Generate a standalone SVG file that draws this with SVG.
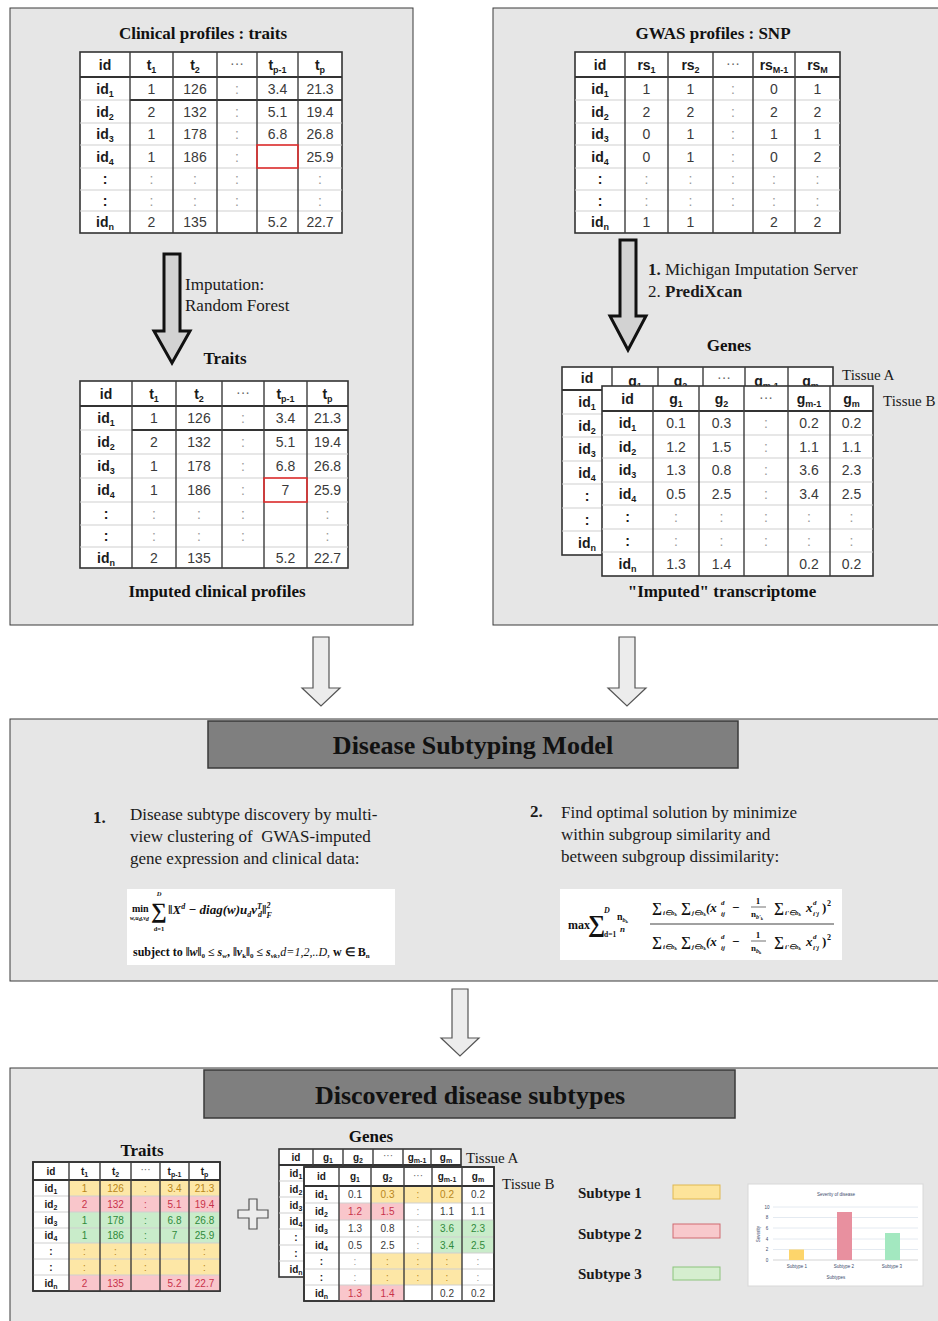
<svg xmlns="http://www.w3.org/2000/svg" width="938" height="1321" viewBox="0 0 938 1321">
<style>
.panel{fill:#e6e6e6;stroke:#3a3a3a;stroke-width:1}
.tb{fill:#fff;stroke:#333;stroke-width:1.6}
.vl{stroke:#3d3d3d;stroke-width:1.4;fill:none}
.hl{stroke:#cfcfcf;stroke-width:1;fill:none}
.hh{stroke:#333;stroke-width:2;fill:none}
.th{font-family:"Liberation Sans",Arial,sans-serif;font-weight:bold;font-size:14px;text-anchor:middle;fill:#1a1a1a}
.td{font-family:"Liberation Sans",Arial,sans-serif;font-size:14px;text-anchor:middle;fill:#3a3a3a}
.th2{font-family:"Liberation Sans",Arial,sans-serif;font-weight:bold;font-size:10px;text-anchor:middle;fill:#1a1a1a}
.td2{font-family:"Liberation Sans",Arial,sans-serif;font-size:10px;text-anchor:middle;fill:#3a3a3a}
.dt{fill:#9a9a9a}
.ell{fill:#666;font-weight:normal}
.s{font-size:9px}
.s2{font-size:7px}
.ttl{font-family:"Liberation Serif","Times New Roman",serif;font-weight:bold;font-size:17px;text-anchor:middle;fill:#111}
.ser{font-family:"Liberation Serif","Times New Roman",serif;font-size:17px;fill:#1a1a1a}
.tis{font-family:"Liberation Serif","Times New Roman",serif;font-size:15px;fill:#1a1a1a}
.bar{fill:#7f7f7f;stroke:#3a3a3a;stroke-width:1.5}
.bartxt{font-family:"Liberation Serif","Times New Roman",serif;font-weight:bold;font-size:26px;text-anchor:middle;fill:#111}
.big{fill:#d2d2d2;stroke:#111;stroke-width:3;stroke-linejoin:miter}
.hollow{fill:#ececec;stroke:#555;stroke-width:1.2}
.m{font-family:"Liberation Serif","Times New Roman",serif;font-weight:bold;font-style:italic;fill:#111}
.mn{font-family:"Liberation Serif","Times New Roman",serif;font-weight:bold;fill:#111}
.y{fill:#fde7a6}.p{fill:#f9c6cb}.g{fill:#c9ecca}
.ty{fill:#b8861a}.tp{fill:#c8324a}.tg{fill:#2f8a3a}
.leg{font-family:"Liberation Serif","Times New Roman",serif;font-weight:bold;font-size:15px;fill:#1a1a1a}
.ch{font-family:"Liberation Sans",Arial,sans-serif;font-size:4.5px;fill:#3a4a6b;text-anchor:middle}
</style>

<!-- Panels -->
<g id="panels">
<rect class="panel" x="10" y="8" width="403" height="617"/>
<rect class="panel" x="493" y="8" width="460" height="617"/>
<rect class="panel" x="10" y="719" width="940" height="262"/>
<rect class="panel" x="10" y="1068" width="940" height="260"/>
</g>

<!-- Clinical profiles -->
<g id="clinical-profiles">
<text class="ttl" x="203" y="39">Clinical profiles : traits</text>
<rect class="tb" x="80" y="52" width="262" height="181"/>
<path class="hl" d="M80 123H342M80 145H342M80 168H342M80 190H342M80 211H342M80 100H130"/>
<path class="hh" d="M80 77H342M130 100H342"/>
<path class="vl" d="M130 52V233M173 52V233M217 52V233M257 52V233M298 52V233"/>
<rect x="257" y="145" width="41" height="23" fill="none" stroke="#e03030" stroke-width="1.6"/>
<text class="th" x="105" y="70">id</text>
<text class="th" x="151.5" y="70">t<tspan class="s" dy="3">1</tspan></text>
<text class="th" x="195" y="70">t<tspan class="s" dy="3">2</tspan></text>
<text class="th ell" x="237" y="68">···</text>
<text class="th" x="277.5" y="70">t<tspan class="s" dy="3">p-1</tspan></text>
<text class="th" x="320" y="70">t<tspan class="s" dy="3">p</tspan></text>
<text class="th" x="105" y="93.5">id<tspan class="s" dy="3">1</tspan></text>
<text class="td" x="151.5" y="93.5">1</text><text class="td" x="195" y="93.5">126</text><text class="td dt" x="237" y="93.5">:</text><text class="td" x="277.5" y="93.5">3.4</text><text class="td" x="320" y="93.5">21.3</text>
<text class="th" x="105" y="116.5">id<tspan class="s" dy="3">2</tspan></text>
<text class="td" x="151.5" y="116.5">2</text><text class="td" x="195" y="116.5">132</text><text class="td dt" x="237" y="116.5">:</text><text class="td" x="277.5" y="116.5">5.1</text><text class="td" x="320" y="116.5">19.4</text>
<text class="th" x="105" y="139">id<tspan class="s" dy="3">3</tspan></text>
<text class="td" x="151.5" y="139">1</text><text class="td" x="195" y="139">178</text><text class="td dt" x="237" y="139">:</text><text class="td" x="277.5" y="139">6.8</text><text class="td" x="320" y="139">26.8</text>
<text class="th" x="105" y="161.5">id<tspan class="s" dy="3">4</tspan></text>
<text class="td" x="151.5" y="161.5">1</text><text class="td" x="195" y="161.5">186</text><text class="td dt" x="237" y="161.5">:</text><text class="td" x="320" y="161.5">25.9</text>
<text class="th" x="105" y="184">:</text>
<text class="td dt" x="151.5" y="184">:</text><text class="td dt" x="195" y="184">:</text><text class="td dt" x="237" y="184">:</text><text class="td dt" x="320" y="184">:</text>
<text class="th" x="105" y="205.5">:</text>
<text class="td dt" x="151.5" y="205.5">:</text><text class="td dt" x="195" y="205.5">:</text><text class="td dt" x="237" y="205.5">:</text><text class="td dt" x="320" y="205.5">:</text>
<text class="th" x="105" y="227">id<tspan class="s" dy="3">n</tspan></text>
<text class="td" x="151.5" y="227">2</text><text class="td" x="195" y="227">135</text><text class="td" x="277.5" y="227">5.2</text><text class="td" x="320" y="227">22.7</text>
</g>

<!-- Imputed clinical profiles -->
<g id="imputed-clinical">
<text class="ttl" x="225" y="364">Traits</text>
<rect class="tb" x="80" y="381" width="268" height="187"/>
<path class="hl" d="M80 454H348M80 478H348M80 502H348M80 525H348M80 547H348M80 430H132"/>
<path class="hh" d="M80 406H348M132 430H348"/>
<path class="vl" d="M132 381V568M176 381V568M222 381V568M264 381V568M307 381V568"/>
<rect x="264" y="478" width="43" height="24" fill="none" stroke="#e03030" stroke-width="1.6"/>
<text class="th" x="106" y="398.5">id</text>
<text class="th" x="154" y="398.5">t<tspan class="s" dy="3">1</tspan></text>
<text class="th" x="199" y="398.5">t<tspan class="s" dy="3">2</tspan></text>
<text class="th ell" x="243" y="396.5">···</text>
<text class="th" x="285.5" y="398.5">t<tspan class="s" dy="3">p-1</tspan></text>
<text class="th" x="327.5" y="398.5">t<tspan class="s" dy="3">p</tspan></text>
<text class="th" x="106" y="423">id<tspan class="s" dy="3">1</tspan></text>
<text class="td" x="154" y="423">1</text><text class="td" x="199" y="423">126</text><text class="td dt" x="243" y="423">:</text><text class="td" x="285.5" y="423">3.4</text><text class="td" x="327.5" y="423">21.3</text>
<text class="th" x="106" y="447">id<tspan class="s" dy="3">2</tspan></text>
<text class="td" x="154" y="447">2</text><text class="td" x="199" y="447">132</text><text class="td dt" x="243" y="447">:</text><text class="td" x="285.5" y="447">5.1</text><text class="td" x="327.5" y="447">19.4</text>
<text class="th" x="106" y="471">id<tspan class="s" dy="3">3</tspan></text>
<text class="td" x="154" y="471">1</text><text class="td" x="199" y="471">178</text><text class="td dt" x="243" y="471">:</text><text class="td" x="285.5" y="471">6.8</text><text class="td" x="327.5" y="471">26.8</text>
<text class="th" x="106" y="495">id<tspan class="s" dy="3">4</tspan></text>
<text class="td" x="154" y="495">1</text><text class="td" x="199" y="495">186</text><text class="td dt" x="243" y="495">:</text><text class="td" x="285.5" y="495">7</text><text class="td" x="327.5" y="495">25.9</text>
<text class="th" x="106" y="518.5">:</text>
<text class="td dt" x="154" y="518.5">:</text><text class="td dt" x="199" y="518.5">:</text><text class="td dt" x="243" y="518.5">:</text><text class="td dt" x="327.5" y="518.5">:</text>
<text class="th" x="106" y="541">:</text>
<text class="td dt" x="154" y="541">:</text><text class="td dt" x="199" y="541">:</text><text class="td dt" x="243" y="541">:</text><text class="td dt" x="327.5" y="541">:</text>
<text class="th" x="106" y="562.5">id<tspan class="s" dy="3">n</tspan></text>
<text class="td" x="154" y="562.5">2</text><text class="td" x="199" y="562.5">135</text><text class="td" x="285.5" y="562.5">5.2</text><text class="td" x="327.5" y="562.5">22.7</text>
<text class="ttl" x="217" y="597">Imputed clinical profiles</text>
</g>

<!-- GWAS profiles -->
<g id="gwas-profiles">
<text class="ttl" x="713" y="39">GWAS profiles : SNP</text>
<rect class="tb" x="575" y="52" width="265" height="181"/>
<path class="hl" d="M575 100H840M575 123H840M575 145H840M575 168H840M575 190H840M575 211H840"/>
<path class="hh" d="M575 77H840"/>
<path class="vl" d="M625 52V233M668 52V233M713 52V233M753 52V233M795 52V233"/>
<text class="th" x="600" y="70">id</text>
<text class="th" x="646.5" y="70">rs<tspan class="s" dy="3">1</tspan></text>
<text class="th" x="690.5" y="70">rs<tspan class="s" dy="3">2</tspan></text>
<text class="th ell" x="733" y="68">···</text>
<text class="th" x="774" y="70">rs<tspan class="s" dy="3">M-1</tspan></text>
<text class="th" x="817.5" y="70">rs<tspan class="s" dy="3">M</tspan></text>
<text class="th" x="600" y="93.5">id<tspan class="s" dy="3">1</tspan></text>
<text class="td" x="646.5" y="93.5">1</text><text class="td" x="690.5" y="93.5">1</text><text class="td dt" x="733" y="93.5">:</text><text class="td" x="774" y="93.5">0</text><text class="td" x="817.5" y="93.5">1</text>
<text class="th" x="600" y="116.5">id<tspan class="s" dy="3">2</tspan></text>
<text class="td" x="646.5" y="116.5">2</text><text class="td" x="690.5" y="116.5">2</text><text class="td dt" x="733" y="116.5">:</text><text class="td" x="774" y="116.5">2</text><text class="td" x="817.5" y="116.5">2</text>
<text class="th" x="600" y="139">id<tspan class="s" dy="3">3</tspan></text>
<text class="td" x="646.5" y="139">0</text><text class="td" x="690.5" y="139">1</text><text class="td dt" x="733" y="139">:</text><text class="td" x="774" y="139">1</text><text class="td" x="817.5" y="139">1</text>
<text class="th" x="600" y="161.5">id<tspan class="s" dy="3">4</tspan></text>
<text class="td" x="646.5" y="161.5">0</text><text class="td" x="690.5" y="161.5">1</text><text class="td dt" x="733" y="161.5">:</text><text class="td" x="774" y="161.5">0</text><text class="td" x="817.5" y="161.5">2</text>
<text class="th" x="600" y="184">:</text>
<text class="td dt" x="646.5" y="184">:</text><text class="td dt" x="690.5" y="184">:</text><text class="td dt" x="733" y="184">:</text><text class="td dt" x="774" y="184">:</text><text class="td dt" x="817.5" y="184">:</text>
<text class="th" x="600" y="205.5">:</text>
<text class="td dt" x="646.5" y="205.5">:</text><text class="td dt" x="690.5" y="205.5">:</text><text class="td dt" x="733" y="205.5">:</text><text class="td dt" x="774" y="205.5">:</text><text class="td dt" x="817.5" y="205.5">:</text>
<text class="th" x="600" y="227">id<tspan class="s" dy="3">n</tspan></text>
<text class="td" x="646.5" y="227">1</text><text class="td" x="690.5" y="227">1</text><text class="td" x="774" y="227">2</text><text class="td" x="817.5" y="227">2</text>
</g>

<!-- Imputed transcriptome -->
<g id="imputed-transcriptome">
<text class="ttl" x="729" y="351">Genes</text>
<rect class="tb" x="562" y="367" width="271" height="188"/>
<path class="hl" d="M562 414H833M562 437H833M562 461H833M562 484H833M562 508H833M562 531H833"/>
<path class="hh" d="M562 390H833"/>
<path class="vl" d="M612 367V555M658 367V555M703 367V555M745 367V555M788 367V555"/>
<text class="th" x="587" y="383">id</text>
<text class="th" x="635" y="386">g<tspan class="s" dy="3">1</tspan></text>
<text class="th" x="680.5" y="386">g<tspan class="s" dy="3">2</tspan></text>
<text class="th ell" x="724" y="382">···</text>
<text class="th" x="766.5" y="386">g<tspan class="s" dy="3">m-1</tspan></text>
<text class="th" x="810.5" y="386">g<tspan class="s" dy="3">m</tspan></text>
<text class="th" x="587" y="407">id<tspan class="s" dy="3">1</tspan></text>
<text class="th" x="587" y="430.5">id<tspan class="s" dy="3">2</tspan></text>
<text class="th" x="587" y="454">id<tspan class="s" dy="3">3</tspan></text>
<text class="th" x="587" y="477.5">id<tspan class="s" dy="3">4</tspan></text>
<text class="th" x="587" y="501">:</text>
<text class="th" x="587" y="524.5">:</text>
<text class="th" x="587" y="548">id<tspan class="s" dy="3">n</tspan></text>
<text class="tis" x="842" y="380">Tissue A</text>

<rect class="tb" x="602" y="386" width="271" height="190"/>
<path class="hl" d="M602 435H873M602 458H873M602 482H873M602 505H873M602 529H873M602 552H873"/>
<path class="hh" d="M602 411H873"/>
<path class="vl" d="M653 386V576M699 386V576M744 386V576M788 386V576M830 386V576"/>
<text class="th" x="627.5" y="403.5">id</text>
<text class="th" x="676" y="403.5">g<tspan class="s" dy="3">1</tspan></text>
<text class="th" x="721.5" y="403.5">g<tspan class="s" dy="3">2</tspan></text>
<text class="th ell" x="766" y="401.5">···</text>
<text class="th" x="809" y="403.5">g<tspan class="s" dy="3">m-1</tspan></text>
<text class="th" x="851.5" y="403.5">g<tspan class="s" dy="3">m</tspan></text>
<text class="th" x="627.5" y="428">id<tspan class="s" dy="3">1</tspan></text>
<text class="td" x="676" y="428">0.1</text><text class="td" x="721.5" y="428">0.3</text><text class="td dt" x="766" y="428">:</text><text class="td" x="809" y="428">0.2</text><text class="td" x="851.5" y="428">0.2</text>
<text class="th" x="627.5" y="451.5">id<tspan class="s" dy="3">2</tspan></text>
<text class="td" x="676" y="451.5">1.2</text><text class="td" x="721.5" y="451.5">1.5</text><text class="td dt" x="766" y="451.5">:</text><text class="td" x="809" y="451.5">1.1</text><text class="td" x="851.5" y="451.5">1.1</text>
<text class="th" x="627.5" y="475">id<tspan class="s" dy="3">3</tspan></text>
<text class="td" x="676" y="475">1.3</text><text class="td" x="721.5" y="475">0.8</text><text class="td dt" x="766" y="475">:</text><text class="td" x="809" y="475">3.6</text><text class="td" x="851.5" y="475">2.3</text>
<text class="th" x="627.5" y="498.5">id<tspan class="s" dy="3">4</tspan></text>
<text class="td" x="676" y="498.5">0.5</text><text class="td" x="721.5" y="498.5">2.5</text><text class="td dt" x="766" y="498.5">:</text><text class="td" x="809" y="498.5">3.4</text><text class="td" x="851.5" y="498.5">2.5</text>
<text class="th" x="627.5" y="522">:</text>
<text class="td dt" x="676" y="522">:</text><text class="td dt" x="721.5" y="522">:</text><text class="td dt" x="766" y="522">:</text><text class="td dt" x="809" y="522">:</text><text class="td dt" x="851.5" y="522">:</text>
<text class="th" x="627.5" y="545.5">:</text>
<text class="td dt" x="676" y="545.5">:</text><text class="td dt" x="721.5" y="545.5">:</text><text class="td dt" x="766" y="545.5">:</text><text class="td dt" x="809" y="545.5">:</text><text class="td dt" x="851.5" y="545.5">:</text>
<text class="th" x="627.5" y="569">id<tspan class="s" dy="3">n</tspan></text>
<text class="td" x="676" y="569">1.3</text><text class="td" x="721.5" y="569">1.4</text><text class="td" x="809" y="569">0.2</text><text class="td" x="851.5" y="569">0.2</text>
<text class="tis" x="883" y="406">Tissue B</text>
<text class="ttl" x="722" y="597">"Imputed" transcriptome</text>
</g>

<!-- Disease Subtyping Model -->
<g id="subtyping-model">
<rect class="bar" x="208" y="721" width="530" height="47"/>
<text class="bartxt" x="473" y="754">Disease Subtyping Model</text>
<text class="ser" x="93" y="823" font-weight="bold">1.</text>
<text class="ser" x="130" y="820">Disease subtype discovery by multi-</text>
<text class="ser" x="130" y="842" xml:space="preserve">view clustering of  GWAS-imputed</text>
<text class="ser" x="130" y="864">gene expression and clinical data:</text>
<text class="ser" x="530" y="817" font-weight="bold">2.</text>
<text class="ser" x="561" y="818">Find optimal solution by minimize</text>
<text class="ser" x="561" y="840">within subgroup similarity and</text>
<text class="ser" x="561" y="862">between subgroup dissimilarity:</text>

<rect x="127" y="889" width="268" height="76" fill="#fff"/>
<text class="mn" x="132" y="912" font-size="10">min</text>
<text class="m" x="130" y="920" font-size="6">w,u<tspan dy="1">d</tspan><tspan dy="-1">,v</tspan><tspan dy="1">d</tspan></text>
<text class="mn" x="151" y="918" font-size="22">∑</text>
<text class="m" x="159" y="896" font-size="6.5" text-anchor="middle">D</text>
<text class="mn" x="159" y="931" font-size="6.5" text-anchor="middle">d=1</text>
<text class="m" x="168" y="914" font-size="13">‖X<tspan font-size="8" dy="-5">d</tspan><tspan dy="5"> − diag(w)u</tspan><tspan font-size="8" dy="3">d</tspan><tspan dy="-3">v</tspan><tspan font-size="8" dy="-5">T</tspan><tspan font-size="8" dx="-4" dy="8">d</tspan><tspan dy="-3">‖</tspan><tspan font-size="8" dy="-6">2</tspan><tspan font-size="8" dx="-4" dy="10">F</tspan></text>
<text class="mn" x="133" y="956" font-size="12">subject to  ‖<tspan font-style="italic">w</tspan>‖<tspan font-size="7" dy="2">0</tspan><tspan dy="-2"> ≤ </tspan><tspan font-style="italic">s</tspan><tspan font-size="7" dy="2" font-style="italic">w</tspan><tspan dy="-2">, ‖</tspan><tspan font-style="italic">v</tspan><tspan font-size="7" dy="2">k</tspan><tspan dy="-2">‖</tspan><tspan font-size="7" dy="2">0</tspan><tspan dy="-2">  ≤ </tspan><tspan font-style="italic">s</tspan><tspan font-size="7" dy="2" font-style="italic">vk</tspan><tspan dy="-2" font-weight="normal" font-style="italic">,d=1,2,..D,</tspan><tspan>  w ∈ B</tspan><tspan font-size="7" dy="2">n</tspan></text>

<rect x="560" y="889" width="282" height="71" fill="#fff"/>
<text class="mn" x="568" y="929" font-size="12">max</text>
<text class="mn" x="588" y="932" font-size="24">∑</text>
<text class="m" x="604" y="913" font-size="8">D</text>
<text class="mn" x="604" y="937" font-size="7.5">d=1</text>
<text class="mn" x="617" y="920" font-size="10">n<tspan font-size="6" dy="2" font-style="italic">b</tspan><tspan font-size="4.5" dy="1">k</tspan></text>
<text class="m" x="620" y="932" font-size="9">n</text>
<path d="M650 924H834" stroke="#111" stroke-width="0.8"/>
<g id="num">
<text class="mn" x="652" y="912" font-size="14">∑</text>
<text class="m" x="663" y="915" font-size="7">i∈b<tspan font-size="5" dy="1">k</tspan></text>
<text class="mn" x="681" y="912" font-size="14">∑</text>
<text class="m" x="692" y="915" font-size="7">j∈b<tspan font-size="5" dy="1">k</tspan></text>
<text class="m" x="706" y="912" font-size="13">(x</text>
<text class="m" x="721" y="905" font-size="7">d</text>
<text class="m" x="721" y="916" font-size="7">ij</text>
<text class="mn" x="732" y="912" font-size="13">−</text>
<text class="mn" x="758" y="904" font-size="9" text-anchor="middle">1</text>
<path d="M751 907H766" stroke="#111" stroke-width="0.6"/>
<text class="mn" x="751" y="917" font-size="9">n<tspan font-size="6" dy="2" font-style="italic">b'</tspan><tspan font-size="4" dy="1">k</tspan></text>
<text class="mn" x="774" y="912" font-size="14">∑</text>
<text class="m" x="785" y="915" font-size="7">i'∈b<tspan font-size="5" dy="1">k</tspan></text>
<text class="m" x="806" y="912" font-size="13">x</text>
<text class="m" x="813" y="905" font-size="7">d</text>
<text class="m" x="813" y="916" font-size="7">i'j</text>
<text class="mn" x="822" y="912" font-size="13">)</text>
<text class="mn" x="827" y="906" font-size="8">2</text>
</g>
<g id="den">
<text class="mn" x="652" y="946" font-size="14">∑</text>
<text class="m" x="663" y="949" font-size="7">i∈b<tspan font-size="5" dy="1">k</tspan></text>
<text class="mn" x="681" y="946" font-size="14">∑</text>
<text class="m" x="692" y="949" font-size="7">j∈b<tspan font-size="5" dy="1">k</tspan></text>
<text class="m" x="706" y="946" font-size="13">(x</text>
<text class="m" x="721" y="939" font-size="7">d</text>
<text class="m" x="721" y="950" font-size="7">ij</text>
<text class="mn" x="732" y="946" font-size="13">−</text>
<text class="mn" x="758" y="938" font-size="9" text-anchor="middle">1</text>
<path d="M751 941H766" stroke="#111" stroke-width="0.6"/>
<text class="mn" x="751" y="951" font-size="9">n<tspan font-size="6" dy="2" font-style="italic">b</tspan><tspan font-size="4" dy="1">k</tspan></text>
<text class="mn" x="774" y="946" font-size="14">∑</text>
<text class="m" x="785" y="949" font-size="7">i'∈b<tspan font-size="5" dy="1">k</tspan></text>
<text class="m" x="806" y="946" font-size="13">x</text>
<text class="m" x="813" y="939" font-size="7">d</text>
<text class="m" x="813" y="950" font-size="7">i'j</text>
<text class="mn" x="822" y="946" font-size="13">)</text>
<text class="mn" x="827" y="940" font-size="8">2</text>
</g>
</g>

<!-- Discovered disease subtypes -->
<g id="discovered-subtypes">
<rect class="bar" x="204" y="1070" width="531" height="48"/>
<text class="bartxt" x="470" y="1104">Discovered disease subtypes</text>
</g>

<g id="traits-subtyped">
<text class="ttl" x="142" y="1156">Traits</text>
<rect class="tb" x="33" y="1162" width="187" height="129"/>
<rect class="y" x="69" y="1180" width="151" height="16"/>
<rect class="p" x="69" y="1196" width="151" height="16"/>
<rect class="g" x="69" y="1212" width="151" height="31"/>
<rect class="y" x="69" y="1243" width="151" height="32"/>
<rect class="p" x="69" y="1275" width="151" height="16"/>
<path class="hl" d="M33 1196H220M33 1212H220M33 1228H220M33 1243H220M33 1259H220M33 1275H220" stroke="#e0e0e0"/>
<path class="hh" d="M33 1180H220" stroke-width="1.5"/>
<rect x="33" y="1162" width="187" height="129" fill="none" stroke="#333" stroke-width="1.6"/>
<path class="vl" d="M69 1162V1291M100 1162V1291M131 1162V1291M160 1162V1291M189 1162V1291" stroke-width="1.1"/>
<text class="th2" x="51" y="1174.5">id</text>
<text class="th2" x="84.5" y="1174.5">t<tspan class="s2" dy="2">1</tspan></text>
<text class="th2" x="115.5" y="1174.5">t<tspan class="s2" dy="2">2</tspan></text>
<text class="th2 ell" x="145.5" y="1173">···</text>
<text class="th2" x="174.5" y="1174.5">t<tspan class="s2" dy="2">p-1</tspan></text>
<text class="th2" x="204.5" y="1174.5">t<tspan class="s2" dy="2">p</tspan></text>
<text class="th2" x="51" y="1191.5">id<tspan class="s2" dy="2">1</tspan></text>
<text class="td2 ty" x="84.5" y="1191.5">1</text><text class="td2 ty" x="115.5" y="1191.5">126</text><text class="td2 ty" x="145.5" y="1191.5">:</text><text class="td2 ty" x="174.5" y="1191.5">3.4</text><text class="td2 ty" x="204.5" y="1191.5">21.3</text>
<text class="th2" x="51" y="1207.5">id<tspan class="s2" dy="2">2</tspan></text>
<text class="td2 tp" x="84.5" y="1207.5">2</text><text class="td2 tp" x="115.5" y="1207.5">132</text><text class="td2 tp" x="145.5" y="1207.5">:</text><text class="td2 tp" x="174.5" y="1207.5">5.1</text><text class="td2 tp" x="204.5" y="1207.5">19.4</text>
<text class="th2" x="51" y="1223.5">id<tspan class="s2" dy="2">3</tspan></text>
<text class="td2 tg" x="84.5" y="1223.5">1</text><text class="td2 tg" x="115.5" y="1223.5">178</text><text class="td2 tg" x="145.5" y="1223.5">:</text><text class="td2 tg" x="174.5" y="1223.5">6.8</text><text class="td2 tg" x="204.5" y="1223.5">26.8</text>
<text class="th2" x="51" y="1239">id<tspan class="s2" dy="2">4</tspan></text>
<text class="td2 tg" x="84.5" y="1239">1</text><text class="td2 tg" x="115.5" y="1239">186</text><text class="td2 tg" x="145.5" y="1239">:</text><text class="td2 tg" x="174.5" y="1239">7</text><text class="td2 tg" x="204.5" y="1239">25.9</text>
<text class="th2" x="51" y="1254.5">:</text>
<text class="td2 ty" x="84.5" y="1254.5">:</text><text class="td2 ty" x="115.5" y="1254.5">:</text><text class="td2 ty" x="145.5" y="1254.5">:</text><text class="td2 ty" x="204.5" y="1254.5">:</text>
<text class="th2" x="51" y="1270.5">:</text>
<text class="td2 ty" x="84.5" y="1270.5">:</text><text class="td2 ty" x="115.5" y="1270.5">:</text><text class="td2 ty" x="145.5" y="1270.5">:</text><text class="td2 ty" x="204.5" y="1270.5">:</text>
<text class="th2" x="51" y="1286.5">id<tspan class="s2" dy="2">n</tspan></text>
<text class="td2 tp" x="84.5" y="1286.5">2</text><text class="td2 tp" x="115.5" y="1286.5">135</text><text class="td2 tp" x="174.5" y="1286.5">5.2</text><text class="td2 tp" x="204.5" y="1286.5">22.7</text>
</g>

<g id="plus">
<polygon class="hollow" points="249,1199 257,1199 257,1210 268,1210 268,1218 257,1218 257,1229 249,1229 249,1218 238,1218 238,1210 249,1210"/>
</g>

<g id="genes-subtyped">
<text class="ttl" x="371" y="1142">Genes</text>
<rect class="tb" x="279" y="1149" width="182" height="128"/>
<path class="hl" d="M279 1181H461M279 1197H461M279 1213H461M279 1229H461M279 1245H461M279 1261H461"/>
<path class="hh" d="M279 1165H461" stroke-width="1.5"/>
<path class="vl" d="M313 1149V1277M343 1149V1277M373 1149V1277M403 1149V1277M431 1149V1277" stroke-width="1.1"/>
<text class="th2" x="296" y="1160.5">id</text>
<text class="th2" x="328" y="1160.5">g<tspan class="s2" dy="2">1</tspan></text>
<text class="th2" x="358" y="1160.5">g<tspan class="s2" dy="2">2</tspan></text>
<text class="th2 ell" x="388" y="1159">···</text>
<text class="th2" x="417" y="1160.5">g<tspan class="s2" dy="2">m-1</tspan></text>
<text class="th2" x="446" y="1160.5">g<tspan class="s2" dy="2">m</tspan></text>
<text class="th2" x="296" y="1176.5">id<tspan class="s2" dy="2">1</tspan></text>
<text class="th2" x="296" y="1192.5">id<tspan class="s2" dy="2">2</tspan></text>
<text class="th2" x="296" y="1208.5">id<tspan class="s2" dy="2">3</tspan></text>
<text class="th2" x="296" y="1224.5">id<tspan class="s2" dy="2">4</tspan></text>
<text class="th2" x="296" y="1240.5">:</text>
<text class="th2" x="296" y="1256.5">:</text>
<text class="th2" x="296" y="1272.5">id<tspan class="s2" dy="2">n</tspan></text>
<text class="tis" x="466" y="1163">Tissue A</text>

<rect class="tb" x="304" y="1167" width="190" height="134"/>
<rect class="y" x="371" y="1186" width="91" height="17"/>
<rect class="p" x="339" y="1203" width="65" height="17"/>
<rect class="g" x="432" y="1220" width="62" height="33"/>
<rect class="y" x="371" y="1253" width="91" height="32"/>
<rect class="p" x="339" y="1285" width="65" height="16"/>
<path class="hl" d="M304 1203H494M304 1220H494M304 1237H494M304 1253H494M304 1269H494M304 1285H494" stroke="#e0e0e0"/>
<path class="hh" d="M304 1186H494" stroke-width="1.5"/>
<rect x="304" y="1167" width="190" height="134" fill="none" stroke="#333" stroke-width="1.6"/>
<path class="vl" d="M339 1167V1301M371 1167V1301M404 1167V1301M432 1167V1301M462 1167V1301" stroke-width="1.1"/>
<text class="th2" x="321.5" y="1180">id</text>
<text class="th2" x="355" y="1180">g<tspan class="s2" dy="2">1</tspan></text>
<text class="th2" x="387.5" y="1180">g<tspan class="s2" dy="2">2</tspan></text>
<text class="th2 ell" x="418" y="1178.5">···</text>
<text class="th2" x="447" y="1180">g<tspan class="s2" dy="2">m-1</tspan></text>
<text class="th2" x="478" y="1180">g<tspan class="s2" dy="2">m</tspan></text>
<text class="th2" x="321.5" y="1198">id<tspan class="s2" dy="2">1</tspan></text>
<text class="td2" x="355" y="1198">0.1</text><text class="td2 ty" x="387.5" y="1198">0.3</text><text class="td2 ty" x="418" y="1198">:</text><text class="td2 ty" x="447" y="1198">0.2</text><text class="td2" x="478" y="1198">0.2</text>
<text class="th2" x="321.5" y="1215">id<tspan class="s2" dy="2">2</tspan></text>
<text class="td2 tp" x="355" y="1215">1.2</text><text class="td2 tp" x="387.5" y="1215">1.5</text><text class="td2 dt" x="418" y="1215">:</text><text class="td2" x="447" y="1215">1.1</text><text class="td2" x="478" y="1215">1.1</text>
<text class="th2" x="321.5" y="1232">id<tspan class="s2" dy="2">3</tspan></text>
<text class="td2" x="355" y="1232">1.3</text><text class="td2" x="387.5" y="1232">0.8</text><text class="td2 dt" x="418" y="1232">:</text><text class="td2 tg" x="447" y="1232">3.6</text><text class="td2 tg" x="478" y="1232">2.3</text>
<text class="th2" x="321.5" y="1248.5">id<tspan class="s2" dy="2">4</tspan></text>
<text class="td2" x="355" y="1248.5">0.5</text><text class="td2" x="387.5" y="1248.5">2.5</text><text class="td2 dt" x="418" y="1248.5">:</text><text class="td2 tg" x="447" y="1248.5">3.4</text><text class="td2 tg" x="478" y="1248.5">2.5</text>
<text class="th2" x="321.5" y="1264.5">:</text>
<text class="td2 dt" x="355" y="1264.5">:</text><text class="td2 ty" x="387.5" y="1264.5">:</text><text class="td2 ty" x="418" y="1264.5">:</text><text class="td2 ty" x="447" y="1264.5">:</text><text class="td2 dt" x="478" y="1264.5">:</text>
<text class="th2" x="321.5" y="1280.5">:</text>
<text class="td2 dt" x="355" y="1280.5">:</text><text class="td2 ty" x="387.5" y="1280.5">:</text><text class="td2 ty" x="418" y="1280.5">:</text><text class="td2 ty" x="447" y="1280.5">:</text><text class="td2 dt" x="478" y="1280.5">:</text>
<text class="th2" x="321.5" y="1296.5">id<tspan class="s2" dy="2">n</tspan></text>
<text class="td2 tp" x="355" y="1296.5">1.3</text><text class="td2 tp" x="387.5" y="1296.5">1.4</text><text class="td2" x="447" y="1296.5">0.2</text><text class="td2" x="478" y="1296.5">0.2</text>
<text class="tis" x="502" y="1189">Tissue B</text>
</g>

<g id="legend">
<text class="leg" x="578" y="1198">Subtype 1</text>
<rect x="673" y="1185" width="47" height="14" fill="#fde49a" stroke="#e0b850"/>
<text class="leg" x="578" y="1239">Subtype 2</text>
<rect x="673" y="1224" width="47" height="14" fill="#f8c9cc" stroke="#d06a70"/>
<text class="leg" x="578" y="1279">Subtype 3</text>
<rect x="673" y="1267" width="47" height="13" fill="#d5eecf" stroke="#8cc47c"/>
</g>

<g id="severity-chart">
<rect x="748" y="1184" width="175" height="102" fill="#fff" stroke="#d8d8d8"/>
<text class="ch" x="836" y="1196" font-size="6.5px" font-family="Liberation Serif,serif">Severity of disease</text>
<path d="M773 1207H918M773 1217.5H918M773 1228H918M773 1239H918M773 1249.5H918" stroke="#dde5ee" stroke-width="0.8" fill="none"/>
<path d="M773 1260H918" stroke="#c8c8c8" stroke-width="0.8"/>
<text class="ch" x="767" y="1208.5">10</text>
<text class="ch" x="767" y="1219">8</text>
<text class="ch" x="767" y="1229.5">6</text>
<text class="ch" x="767" y="1240.5">4</text>
<text class="ch" x="767" y="1251">2</text>
<text class="ch" x="767" y="1261.5">0</text>
<text class="ch" x="760" y="1234" transform="rotate(-90 760 1234)">Severity</text>
<rect x="789" y="1249.5" width="15" height="10.5" fill="#fdd56b"/>
<rect x="837" y="1212" width="15" height="48" fill="#e8909f"/>
<rect x="885" y="1233" width="15" height="27" fill="#a3e8c0"/>
<text class="ch" x="797" y="1268">Subtype 1</text>
<text class="ch" x="844" y="1268">Subtype 2</text>
<text class="ch" x="892" y="1268">Subtype 3</text>
<text class="ch" x="836" y="1279">Subtypes</text>
</g>

<!-- Connectors -->
<g id="connectors">
<polygon class="big" points="164,254 180,254 180,331 190,331 172,363 154,331 164,331"/>
<text class="ser" x="185" y="290">Imputation:</text>
<text class="ser" x="185" y="311">Random Forest</text>
<polygon class="big" points="620,240 636,240 636,316 646,316 628,350 610,316 620,316"/>
<text class="ser" x="648" y="275"><tspan font-weight="bold">1.</tspan> Michigan Imputation Server</text>
<text class="ser" x="648" y="297">2. <tspan font-weight="bold">PrediXcan</tspan></text>
<polygon class="hollow" points="313,637 329,637 329,688 340,688 321,706 302,688 313,688"/>
<polygon class="hollow" points="619,637 635,637 635,688 646,688 627,706 608,688 619,688"/>
<polygon class="hollow" points="452,989 468,989 468,1038 479,1038 460,1056 441,1038 452,1038"/>
</g>
</svg>
